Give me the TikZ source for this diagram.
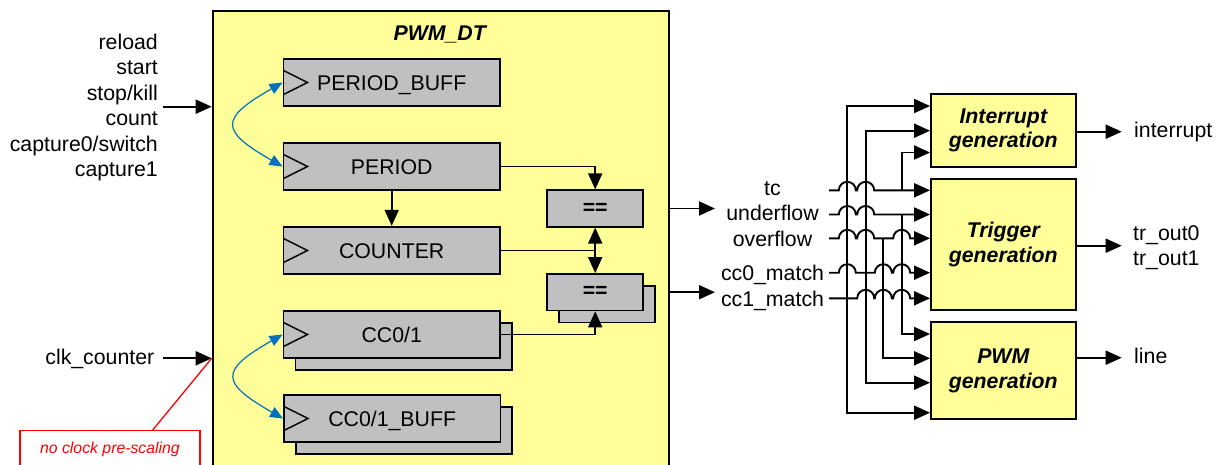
\documentclass[tikz,border=0pt]{standalone}
\usepackage{fontspec}
\setmainfont{Liberation Sans}
\usetikzlibrary{arrows.meta}
\definecolor{ylw}{HTML}{FFFF99}
\definecolor{gry}{HTML}{C0C0C0}
\definecolor{blu}{HTML}{0070C0}
\definecolor{rd}{HTML}{FF0000}
\newcommand\hopat[2]{-- (#1-8.5,#2) arc[start angle=180,end angle=0,radius=8.5pt]}
\begin{document}
\begin{tikzpicture}[x=1pt,y=-1pt,
  every node/.style={inner sep=0pt, font=\fontsize{21.3}{25.5}\selectfont},
  wire/.style={line width=1.9pt},
  arr/.style={-{Triangle[length=16pt,width=14pt]}},
  darr/.style={{Triangle[length=16pt,width=14pt]}-{Triangle[length=16pt,width=14pt]}},
  barr/.style={blu, line width=1.2pt, {Triangle[length=13pt,width=11pt]}-{Triangle[length=13pt,width=11pt]}},
  reg/.style={draw, line width=1.8pt, fill=gry, minimum width=216.5pt, minimum height=47.5pt, text height=15.3pt, text depth=0pt},
  cmp/.style={draw, line width=1.8pt, fill=gry, minimum width=96.3pt, minimum height=36.4pt},
  blk/.style={draw, line width=1.8pt, fill=ylw, minimum width=144.7pt, align=center, font=\fontsize{21.3}{24.5}\selectfont\bfseries\itshape},
  clk/.style={line width=1.4pt}
]
\path[use as bounding box] (0,0) rectangle (1223,464);
\clip (0,0) rectangle (1223,464);

% main block
\node[draw, line width=1.8pt, fill=ylw, anchor=north west, minimum width=456pt, minimum height=470pt] (dt) at (211.7,10.3) {};
\node[anchor=base, font=\fontsize{21.3}{25.5}\selectfont\bfseries\itshape] (dtt) at (439.7,40) {PWM\_DT};

% registers
\node[reg] (ccbs) at (403.9,430.5) {};
\node[reg] (ccs) at (403.7,346.5) {};
\node[reg] (pb) at (391.7,82.5) {PERIOD\_BUFF};
\node[reg] (per) at (391.7,166.5) {PERIOD};
\node[reg] (cnt) at (391.7,250.5) {COUNTER};
\node[reg] (cc) at (391.7,334.5) {CC0/1};
\node[reg] (ccb) at (392.2,418.5) {CC0/1\_BUFF};
\foreach \n in {pb,per,cnt,cc,ccb}
  \draw[clk] (\n.west) ++(0.9,-12) -- ++(24,12) -- ++(-24,12);

% comparators
\node[cmp] (eq2s) at (607.2,304.2) {};
\node[cmp] (eq1) at (595.2,208.5) {\textbf{==}};
\node[cmp] (eq2) at (595.2,292.2) {\textbf{==}};

% internal connections
\draw[wire,arr] (per.south) -- (cnt.north);
\draw[wire,arr] (per.east) -| (eq1.north);
\draw[wire] (cnt.east) -- (cnt.east -| eq1.south);
\draw[wire,darr] (eq1.south) -- (eq2.north);
\draw[wire,arr] (cc.east) -| (eq2.south);
\draw[barr] (pb.west) .. controls +(-63,36) and +(-63,-36) .. (per.west);
\draw[barr] (cc.west) .. controls +(-63,36) and +(-63,-36) .. (ccb.west);

% inputs
\node[anchor=base east] (in1) at (158,49.3) {reload};
\node[anchor=base east] (in2) at (158,74.8) {start};
\node[anchor=base east] (in3) at (158,100.3) {stop/kill};
\node[anchor=base east] (in4) at (158,125.8) {count};
\node[anchor=base east] (in5) at (158,151.3) {capture0/switch};
\node[anchor=base east] (in6) at (158,176.8) {capture1};
\coordinate (inA) at (163.3,106.7);
\draw[wire,arr] (inA) -- (inA -| dt.west);
\node[anchor=base east] (clk) at (154.5,364.5) {clk\_counter};
\coordinate (clkA) at (163.3,358.3);
\draw[wire,arr] (clkA) -- (clkA -| dt.west);

% note
\node[draw=rd, line width=1.3pt, anchor=north west, minimum width=180pt, minimum height=38.4pt, text=rd, font=\fontsize{15.8}{19}\selectfont\itshape] (note) at (19.3,430) {no clock pre-scaling};
\coordinate (ntop) at (152.7,430);
\draw[rd, line width=1.3pt] (ntop) -- (clkA -| dt.west);

% outputs of PWM_DT
\coordinate (o1) at (715,208.5);
\coordinate (o2) at (715,292.2);
\draw[wire,arr] (o1 -| dt.east) -- (o1);
\draw[wire,arr] (o2 -| dt.east) -- (o2);

% signal labels
\node[anchor=base] (ltc) at (772.5,195.5) {tc};
\node[anchor=base] (luf) at (772.5,220.5) {underflow};
\node[anchor=base] (lof) at (772.5,246) {overflow};
\node[anchor=base] (lc0) at (772.5,280.3) {cc0\_match};
\node[anchor=base] (lc1) at (772.5,306.3) {cc1\_match};

% generation blocks
\node[blk, minimum height=72.7pt] (ig) at (1003.3,130.35) {Interrupt\\generation};
\node[blk, minimum height=131.3pt] (tg) at (1003.3,244.35) {Trigger\\generation};
\node[blk, minimum height=96.7pt] (pg) at (1003.3,370.65) {PWM\\generation};

% routing
\coordinate (stc) at (829,190.3);
\coordinate (suf) at (829,214.5);
\coordinate (sof) at (829,238.3);
\coordinate (sc0) at (829,272.7);
\coordinate (sc1) at (829,298.3);

\draw[wire,arr] (stc) \hopat{847.3}{190.3} \hopat{865.7}{190.3} -- (stc -| tg.west);
\draw[wire,arr] (901.7,190.3) -- (901.7,152.5) -- (ig.west |- 0,152.5);

\draw[wire,arr] (suf) \hopat{847.3}{214.5} \hopat{865.7}{214.5} -- (suf -| tg.west);
\draw[wire,arr] (901.7,214.5) -- (901.7,334) -- (pg.west |- 0,334);

\draw[wire,arr] (sof) \hopat{847.3}{238.3} \hopat{865.7}{238.3} \hopat{901.7}{238.3} -- (sof -| tg.west);
\draw[wire,arr] (883.3,238.3) -- (883.3,358.3) -- (pg.west |- 0,358.3);

\draw[wire,arr] (sc0) \hopat{847.3}{272.7} \hopat{883.3}{272.7} \hopat{901.7}{272.7} -- (sc0 -| tg.west);
\draw[wire,darr] (ig.west |- 0,130.7) -- (865.7,130.7) -- (865.7,382.7) -- (pg.west |- 0,382.7);

\draw[wire,arr] (sc1) \hopat{865.7}{298.3} \hopat{883.3}{298.3} \hopat{901.7}{298.3} -- (sc1 -| tg.west);
\draw[wire,darr] (ig.west |- 0,106) -- (847.3,106) -- (847.3,412.7) -- (pg.west |- 0,412.7);

% block outputs
\coordinate (oi) at (1121.7,131.7);
\coordinate (ot) at (1121.7,245.7);
\coordinate (ol) at (1121.7,357.7);
\draw[wire,arr] (oi -| ig.east) -- (oi);
\draw[wire,arr] (ot -| tg.east) -- (ot);
\draw[wire,arr] (ol -| pg.east) -- (ol);
\node[anchor=base west] (lint) at (1134,137) {interrupt};
\node[anchor=base west] (ltr0) at (1133,240) {tr\_out0};
\node[anchor=base west] (ltr1) at (1133,265) {tr\_out1};
\node[anchor=base west] (lline) at (1134,363.3) {line};
\end{tikzpicture}
\end{document}
